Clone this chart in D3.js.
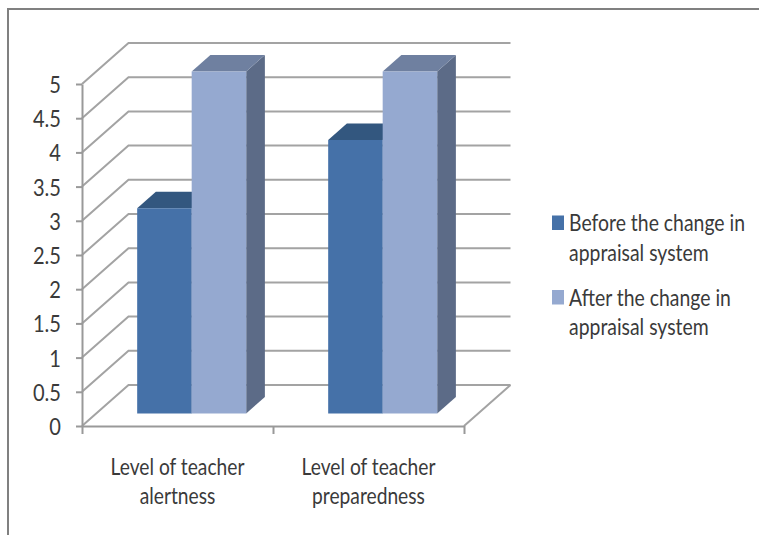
<!DOCTYPE html>
<html>
<head>
<meta charset="utf-8">
<script src="https://cdn.jsdelivr.net/npm/d3@7"></script>
<style>
  html, body { margin: 0; padding: 0; background: #fff; }
  svg { display: block; }
  text { font-family: Lato, "Open Sans", sans-serif; fill: #3a3a3a; }
</style>
</head>
<body>
<svg id="chart" width="759" height="535"></svg>
<script>
// Survey results, rated on a 0-5 scale
const categories = [["Level of teacher", "alertness"], ["Level of teacher", "preparedness"]];
const seriesNames = [
  ["Before the change in", "appraisal system"],
  ["After the change in", "appraisal system"]
];
const beforeValues = [3, 4];
const afterValues = [5, 5];
const yTicks = [0, 0.5, 1, 1.5, 2, 2.5, 3, 3.5, 4, 4.5, 5];

const frontColors = ["#4571a8", "#95a9d0"];
const topColors = ["#33577f", "#6f80a0"];
const sideColors = ["#33577f", "#5c6b87"];
const gridColor = "#a3a3a3";
const axisColor = "#999999";

const svg = d3.select("#chart");

const y = d3.scaleLinear().domain([0, 5]).range([426, 84]);
const band = d3.scaleBand().domain(d3.range(categories.length)).range([82, 464]);
const inner = d3.scaleBand().domain(d3.range(seriesNames.length))
  .range([0, band.bandwidth()]).paddingOuter(0.752).paddingInner(0);
const boundary = d3.scaleLinear().domain([0, categories.length]).range([82, 464]);

// Oblique projection: depth 0 is the front plane, depth 1 the back wall
const depth = d3.scaleLinear().domain([0, 1]);
const project = (px, value, d) => [
  px + depth.copy().range([0, 46.5])(d),
  y(value) + depth.copy().range([0, -41])(d)
];
const barFront = 0.305;
const barBack = 0.707;

// Chart frame, open on the right and at the bottom
svg.append("path")
  .attr("d", "M8,535V9H759")
  .attr("fill", "none").attr("stroke", "#808080").attr("stroke-width", 2);

// Walls: one receding line and one back line per tick
const grid = svg.append("g").attr("fill", "none");
grid.selectAll("path.wall").data(yTicks).join("path")
  .attr("class", "wall")
  .attr("stroke", gridColor).attr("stroke-width", 2)
  .attr("d", v => d3.line()([project(82, v, 0), project(82, v, 1), project(464, v, 1)]));
grid.append("path")
  .attr("stroke", gridColor).attr("stroke-width", 2)
  .attr("d", d3.line()([project(464, 0, 1), project(464, 0, 0)]));

// Bars, drawn series by series so the lighter one overlaps the darker
const seriesValues = [beforeValues, afterValues];
const polygon = pts => d3.line()(pts) + "Z";
const bars = svg.append("g");
categories.forEach((_, c) => {
  seriesValues.forEach((values, s) => {
    const v = values[c];
    const x0 = band(c) + inner(s);
    const x1 = x0 + inner.bandwidth();
    const g = bars.append("g");
    g.append("path").attr("fill", sideColors[s]).attr("d", polygon([
      project(x1, 0, barFront), project(x1, 0, barBack),
      project(x1, v, barBack), project(x1, v, barFront)
    ]));
    g.append("path").attr("fill", topColors[s]).attr("d", polygon([
      project(x0, v, barFront), project(x1, v, barFront),
      project(x1, v, barBack), project(x0, v, barBack)
    ]));
    g.append("path").attr("fill", frontColors[s]).attr("d", polygon([
      project(x0, 0, barFront), project(x1, 0, barFront),
      project(x1, v, barFront), project(x0, v, barFront)
    ]));
  });
});

// Stretched text: glyphs are condensed horizontally and tall vertically
function stretched(parent, str, x, yPos, anchor, size, sx, sy) {
  return parent.append("text")
    .attr("transform", `translate(${x},${yPos}) scale(${sx},${sy})`)
    .attr("text-anchor", anchor)
    .attr("font-size", size)
    .text(str);
}

// Value axis
const yAxis = svg.append("g").attr("transform", "translate(82,0)")
  .call(d3.axisLeft(y).tickValues(yTicks).tickFormat("").tickSize(6).tickSizeOuter(0));
yAxis.selectAll("path, line").attr("stroke", axisColor).attr("stroke-width", 2);
yTicks.forEach(v => stretched(svg, String(v), 61, y(v) + 9, "end", 20.5, 0.98, 1.15));

// Category axis: ticks mark the category boundaries
const xAxis = svg.append("g").attr("transform", "translate(0,426)")
  .call(d3.axisBottom(boundary).tickValues(d3.range(categories.length + 1))
    .tickFormat("").tickSize(8).tickSizeOuter(0));
xAxis.selectAll("path, line").attr("stroke", axisColor).attr("stroke-width", 2);
categories.forEach((lines, c) => {
  const cx = band(c) + band.bandwidth() / 2;
  lines.forEach((line, i) => stretched(svg, line, cx, 474.5 + i * 29.5, "middle", 19.6, 0.98, 1.15));
});

// Legend
const legendY = [215.5, 290];
seriesNames.forEach((lines, s) => {
  svg.append("rect")
    .attr("x", 552).attr("y", legendY[s]).attr("width", 12).attr("height", 14.5)
    .attr("fill", frontColors[s]);
  lines.forEach((line, i) =>
    stretched(svg, line, 569, legendY[s] + 15.5 + i * 29.5, "start", 19.8, 0.98, 1.15));
});
</script>
</body>
</html>
